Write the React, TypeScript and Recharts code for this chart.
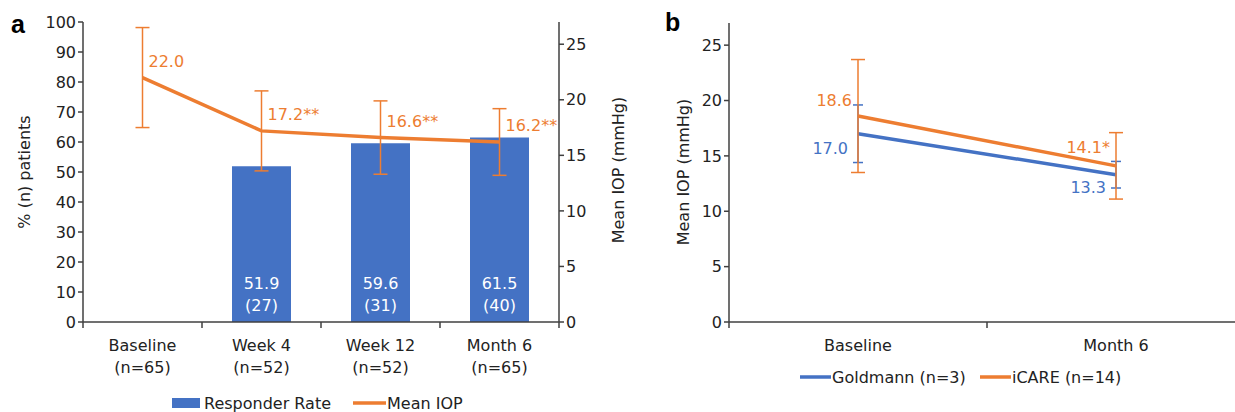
import React from 'react';
import { ComposedChart, Bar, Line, XAxis, YAxis, ErrorBar, LabelList } from 'recharts';

const BLUE = '#4472C4';
const ORANGE = '#ED7D31';
const AXIS = '#404040';
const TEXT = '#222';
const FONT = '"DejaVu Sans", Verdana, sans-serif';

// panel a: responder rate + mean IOP by visit
const visitsA = ['Baseline', 'Week 4', 'Week 12', 'Month 6'];
const visitN = [65, 52, 52, 65];
const responderRate = [null, 51.9, 59.6, 61.5];
const responderN = [null, 27, 31, 40];
const meanIop = [22.0, 17.2, 16.6, 16.2];
const meanIopSd = [4.5, 3.6, 3.3, 3.0];
const iopSig = ['', '**', '**', '**'];
const pctTicks = [0, 10, 20, 30, 40, 50, 60, 70, 80, 90, 100];
const iopTicksA = [0, 5, 10, 15, 20, 25];

// panel b: tonometer comparison
const visitsB = ['Baseline', 'Month 6'];
const goldmann = [17.0, 13.3];
const goldmannSd = [2.6, 1.2];
const icare = [18.6, 14.1];
const icareSd = [5.1, 3.0];
const icareSig = ['', '*'];
const iopTicksB = [0, 5, 10, 15, 20, 25];

const dataA = visitsA.map((visit, i) => ({
  visit,
  rate: responderRate[i],
  rateLabel: responderRate[i] == null ? null : `${responderRate[i]!.toFixed(1)}|(${responderN[i]})`,
  iop: meanIop[i],
  iopSd: meanIopSd[i],
  iopLabel: meanIop[i].toFixed(1) + iopSig[i],
}));

const dataB = visitsB.map((visit, i) => ({
  visit,
  goldmann: goldmann[i],
  goldmannSd: goldmannSd[i],
  goldmannLabel: goldmann[i].toFixed(1),
  icare: icare[i],
  icareSd: icareSd[i],
  icareLabel: icare[i].toFixed(1) + icareSig[i],
}));

// chart a geometry
const A_W = 650;
const A_H = 412;
const A_LEFT = 83;
const A_RIGHT = 91;
const A_M = { top: 22, right: 0, left: 0, bottom: 50 };

// chart b geometry
const B_W = 620;
const B_H = 412;
const B_LEFT = 79;
const B_M = { top: 23, right: 25, left: 0, bottom: 50 };

function makeTick(count: number, fallbackHalf: number, sub?: number[]) {
  return (props: any) => {
    const { x, y, payload, index } = props;
    const half = payload && payload.offset ? payload.offset : fallbackHalf;
    const isLast = index === count - 1;
    return (
      <g>
        <line x1={x - half} x2={x - half} y1={y} y2={y + 6} stroke={AXIS} strokeWidth={1.5} />
        {isLast && <line x1={x + half} x2={x + half} y1={y} y2={y + 6} stroke={AXIS} strokeWidth={1.5} />}
        <text x={x} textAnchor="middle" fill={TEXT} fontSize={16} fontFamily={FONT}>
          <tspan x={x} y={y + 29}>{payload.value}</tspan>
          {sub && <tspan x={x} y={y + 51}>(n={sub[index]})</tspan>}
        </text>
      </g>
    );
  };
}

function RateLabel(props: any) {
  const { x, y, width, height, value } = props;
  if (value == null) return null;
  const [top, bottomLine] = String(value).split('|');
  const cx = x + width / 2;
  const bottom = y + height;
  return (
    <text textAnchor="middle" fill="#fff" fontSize={16} fontFamily={FONT}>
      <tspan x={cx} y={bottom - 33}>{top}</tspan>
      <tspan x={cx} y={bottom - 11}>{bottomLine}</tspan>
    </text>
  );
}

function IopLabel(props: any) {
  const { x, y, value } = props;
  return (
    <text x={x + 6} y={y - 11} fill={ORANGE} fontSize={16} fontFamily={FONT}>
      {value}
    </text>
  );
}

function sideLabel(color: string, dx: number, dys: number[]) {
  return (props: any) => {
    const { x, y, value, index } = props;
    return (
      <text x={x + dx} y={y + dys[index]} fill={color} fontSize={16} fontFamily={FONT} textAnchor="end">
        {value}
      </text>
    );
  };
}

const tickStyle = { fill: TEXT, fontSize: 16, fontFamily: FONT };

export default function App() {
  const halfA = (A_W - A_LEFT - A_RIGHT) / visitsA.length / 2;
  const halfB = (B_W - B_LEFT - B_M.right) / visitsB.length / 2;
  return (
    <div style={{ position: 'absolute', left: 0, top: 0, width: 1235, height: 412, overflow: 'hidden', background: '#fff', fontFamily: FONT }}>
      <div style={{ position: 'absolute', left: 0, top: 0 }}>
        <ComposedChart width={A_W} height={A_H} data={dataA} margin={A_M}>
          <XAxis
            dataKey="visit"
            stroke={AXIS}
            strokeWidth={1.5}
            tickLine={false}
            tickSize={0}
            tickMargin={0}
            height={40}
            interval={0}
            tick={makeTick(visitsA.length, halfA, visitN)}
          />
          <YAxis
            yAxisId="left"
            width={A_LEFT}
            domain={[0, 100]}
            ticks={pctTicks}
            stroke={AXIS}
            strokeWidth={1.5}
            tickSize={5}
            tick={tickStyle}
            interval={0}
          />
          <YAxis
            yAxisId="right"
            orientation="right"
            width={A_RIGHT}
            domain={[0, 27]}
            ticks={iopTicksA}
            stroke={AXIS}
            strokeWidth={1.5}
            tickSize={5}
            tick={tickStyle}
            interval={0}
          />
          <Bar yAxisId="left" dataKey="rate" fill={BLUE} barSize={59} isAnimationActive={false}>
            <LabelList dataKey="rateLabel" content={RateLabel} />
          </Bar>
          <Line yAxisId="right" dataKey="iop" stroke={ORANGE} strokeWidth={3.5} dot={false} isAnimationActive={false}>
            <ErrorBar dataKey="iopSd" width={7} stroke={ORANGE} strokeWidth={1.5} isAnimationActive={false} />
            <LabelList dataKey="iopLabel" content={IopLabel} />
          </Line>
        </ComposedChart>
      </div>

      <div style={{ position: 'absolute', left: 650, top: 0 }}>
        <ComposedChart width={B_W} height={B_H} data={dataB} margin={B_M}>
          <XAxis
            dataKey="visit"
            scale="band"
            stroke={AXIS}
            strokeWidth={1.5}
            tickLine={false}
            tickSize={0}
            tickMargin={0}
            height={40}
            interval={0}
            tick={makeTick(visitsB.length, halfB)}
          />
          <YAxis
            width={B_LEFT}
            domain={[0, 27]}
            ticks={iopTicksB}
            stroke={AXIS}
            strokeWidth={1.5}
            tickSize={5}
            tick={tickStyle}
            interval={0}
          />
          <Line dataKey="goldmann" stroke={BLUE} strokeWidth={3.5} dot={false} isAnimationActive={false}>
            <ErrorBar dataKey="goldmannSd" width={5} stroke={BLUE} strokeWidth={1.5} isAnimationActive={false} />
            <LabelList dataKey="goldmannLabel" content={sideLabel(BLUE, -10, [20, 18])} />
          </Line>
          <Line dataKey="icare" stroke={ORANGE} strokeWidth={3.5} dot={false} isAnimationActive={false}>
            <ErrorBar dataKey="icareSd" width={7} stroke={ORANGE} strokeWidth={1.5} isAnimationActive={false} />
            <LabelList dataKey="icareLabel" content={sideLabel(ORANGE, -6, [-10, -13])} />
          </Line>
        </ComposedChart>
      </div>

      <svg width={1235} height={412} style={{ position: 'absolute', left: 0, top: 0, pointerEvents: 'none' }}>
        <text x={11} y={33} fontSize={25} fontWeight="bold" fontFamily='"Liberation Sans", Arial, sans-serif' fill="#000">a</text>
        <text x={665} y={31} fontSize={25} fontWeight="bold" fontFamily='"Liberation Sans", Arial, sans-serif' fill="#000">b</text>
        <text transform="rotate(-90 30 172)" x={30} y={172} textAnchor="middle" fontSize={16} fontFamily={FONT} fill={TEXT}>% (n) patients</text>
        <text transform="rotate(-90 624 170)" x={624} y={170} textAnchor="middle" fontSize={16} fontFamily={FONT} fill={TEXT}>Mean IOP (mmHg)</text>
        <text transform="rotate(-90 689 172)" x={689} y={172} textAnchor="middle" fontSize={16} fontFamily={FONT} fill={TEXT}>Mean IOP (mmHg)</text>

        <rect x={172} y={398} width={28} height={10} fill={BLUE} />
        <text x={204} y={409} fontSize={16} fontFamily={FONT} fill={TEXT}>Responder Rate</text>
        <line x1={353} x2={386} y1={403} y2={403} stroke={ORANGE} strokeWidth={3.5} />
        <text x={387} y={409} fontSize={16} fontFamily={FONT} fill={TEXT}>Mean IOP</text>

        <line x1={800} x2={831} y1={377} y2={377} stroke={BLUE} strokeWidth={3.5} />
        <text x={832} y={383} fontSize={16} fontFamily={FONT} fill={TEXT}>Goldmann (n=3)</text>
        <line x1={980} x2={1011} y1={377} y2={377} stroke={ORANGE} strokeWidth={3.5} />
        <text x={1012} y={383} fontSize={16} fontFamily={FONT} fill={TEXT}>iCARE (n=14)</text>
      </svg>
    </div>
  );
}
